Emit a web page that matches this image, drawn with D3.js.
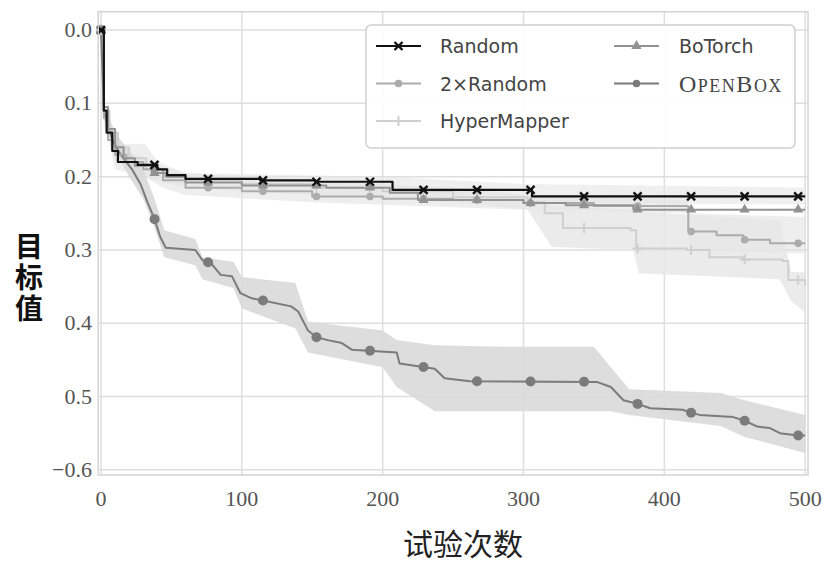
<!DOCTYPE html>
<html><head><meta charset="utf-8">
<script src="https://cdn.jsdelivr.net/npm/d3@7"></script>
<style>body{margin:0;background:#fff}</style></head><body>
<svg id="c" width="827" height="568"></svg>
<script>
// ---------- data ----------
const xTicks = [0, 100, 200, 300, 400, 500];
const yTicks = [0, 0.1, 0.2, 0.3, 0.4, 0.5, 0.6];
const yTickLabels = ["0.0", "0.1", "0.2", "0.3", "0.4", "0.5", "\u22120.6"];
const markT = [0, 38, 76, 115, 153, 191, 229, 267, 305, 343, 381, 419, 457, 495];

const randomT = [0, 2, 4, 8, 12, 26, 40, 47, 60, 113, 152, 207, 306, 500];
const randomV = [0, 0.11, 0.14, 0.165, 0.18, 0.184, 0.19, 0.198, 0.203, 0.205, 0.207, 0.218, 0.227, 0.227];

const botorchT = [0, 2, 5, 10, 16, 24, 36, 46, 60, 100, 160, 205, 225, 300, 330, 378, 500];
const botorchV = [0, 0.105, 0.135, 0.16, 0.175, 0.185, 0.195, 0.2, 0.208, 0.212, 0.215, 0.222, 0.232, 0.236, 0.239, 0.245, 0.245];

const random2T = [0, 2, 5, 10, 18, 30, 44, 60, 100, 150, 200, 250, 300, 350, 417, 437, 456, 475, 500];
const random2V = [0, 0.12, 0.15, 0.17, 0.18, 0.19, 0.205, 0.215, 0.22, 0.227, 0.23, 0.232, 0.236, 0.24, 0.275, 0.28, 0.286, 0.291, 0.291];

const hyperT = [0, 2, 6, 12, 20, 32, 45, 60, 100, 150, 200, 250, 303, 315, 328, 376, 380, 416, 432, 456, 484, 488, 500];
const hyperV = [0, 0.11, 0.14, 0.16, 0.175, 0.19, 0.2, 0.205, 0.21, 0.215, 0.22, 0.228, 0.235, 0.25, 0.27, 0.273, 0.298, 0.3, 0.31, 0.313, 0.315, 0.341, 0.348];

const openboxT = [0, 2, 8, 14, 22, 28, 33, 38, 42, 46, 67, 72, 78, 85, 93, 99, 107, 115, 135, 140, 147, 153, 161, 171, 178, 210, 212, 237, 244, 262, 352, 362, 371, 381, 390, 413, 419, 425, 449, 457, 466, 475, 482, 495, 500];
const openboxV = [0, 0.11, 0.15, 0.17, 0.19, 0.21, 0.235, 0.258, 0.282, 0.297, 0.3, 0.314, 0.318, 0.334, 0.336, 0.359, 0.366, 0.369, 0.377, 0.384, 0.41, 0.419, 0.423, 0.427, 0.436, 0.44, 0.455, 0.462, 0.475, 0.479, 0.48, 0.487, 0.505, 0.51, 0.516, 0.518, 0.522, 0.525, 0.528, 0.533, 0.541, 0.543, 0.55, 0.553, 0.553];

// confidence bands (lo = upper edge on screen, hi = lower edge)
const openboxBandT = [0, 2, 10, 20, 30, 38, 45, 67, 72, 94, 100, 138, 147, 200, 210, 237, 285, 350, 362, 375, 440, 457, 500];
const openboxBandLo = [0, 0.1, 0.14, 0.165, 0.19, 0.23, 0.273, 0.285, 0.31, 0.316, 0.337, 0.345, 0.398, 0.41, 0.423, 0.43, 0.432, 0.432, 0.46, 0.49, 0.495, 0.505, 0.525];
const openboxBandHi = [0, 0.12, 0.165, 0.2, 0.23, 0.27, 0.31, 0.321, 0.34, 0.352, 0.38, 0.407, 0.44, 0.46, 0.487, 0.52, 0.52, 0.52, 0.52, 0.525, 0.54, 0.555, 0.577];

const hyperBandT = [0, 2, 10, 30, 60, 150, 250, 303, 320, 378, 382, 420, 482, 490, 500];
const hyperBandLo = [0, 0.1, 0.15, 0.18, 0.195, 0.205, 0.215, 0.225, 0.24, 0.245, 0.248, 0.252, 0.26, 0.33, 0.33];
const hyperBandHi = [0, 0.12, 0.17, 0.2, 0.215, 0.225, 0.235, 0.245, 0.296, 0.3, 0.332, 0.335, 0.34, 0.37, 0.385];

const random2BandT = [0, 2, 10, 31, 44, 60, 150, 300, 416, 418, 500];
const random2BandLo = [0, 0.1, 0.155, 0.155, 0.19, 0.2, 0.215, 0.225, 0.232, 0.25, 0.255];
const random2BandHi = [0, 0.13, 0.18, 0.2, 0.215, 0.225, 0.235, 0.245, 0.25, 0.3, 0.305];

const randomBandT = [0, 2, 10, 40, 60, 200, 300, 500];
const randomBandLo = [0, 0.1, 0.16, 0.18, 0.195, 0.2, 0.21, 0.215];
const randomBandHi = [0, 0.12, 0.19, 0.205, 0.212, 0.222, 0.235, 0.238];

// ---------- chart ----------
const svg = d3.select("#c");
const x = d3.scaleLinear().domain([-2, 502]).range([98.2, 808]);
const y = d3.scaleLinear().domain([-0.025, 0.607]).range([11.7, 475]);
const [x0, x1] = x.range(), [y0, y1] = y.range();

// grid
const grid = svg.append("g");
grid.selectAll(".gx").data(xTicks).join("line")
  .attr("x1", d => x(d)).attr("x2", d => x(d)).attr("y1", y0).attr("y2", y1)
  .attr("stroke", "#dedede").attr("stroke-width", 1.5);
grid.selectAll(".gy").data(yTicks).join("line")
  .attr("y1", d => y(d)).attr("y2", d => y(d)).attr("x1", x0).attr("x2", x1)
  .attr("stroke", "#dedede").attr("stroke-width", 1.5);

// bands
const zip = (t, a, b) => t.map((d, i) => ({t: d, lo: a[i], hi: b[i]}));
const area = d3.area().x(d => x(d.t)).y0(d => y(d.lo)).y1(d => y(d.hi));
const bands = [
  [randomBandT, randomBandLo, randomBandHi, "#e4e4e4", 0.6],
  [random2BandT, random2BandLo, random2BandHi, "#e2e2e2", 0.6],
  [hyperBandT, hyperBandLo, hyperBandHi, "#e6e6e6", 0.8],
  [openboxBandT, openboxBandLo, openboxBandHi, "#d9d9d9", 0.9]
];
bands.forEach(([t, a, b, c, o]) => {
  svg.append("path").datum(zip(t, a, b)).attr("d", area).attr("fill", c).attr("fill-opacity", o);
});

// lines
const pts = (t, v) => t.map((d, i) => ({t: d, v: v[i]}));
const stepVal = (t, v, q) => { let r = v[0]; for (let i = 0; i < t.length; i++) if (t[i] <= q) r = v[i]; return r; };
const linVal = (t, v, q) => { for (let i = 1; i < t.length; i++) if (q <= t[i]) { const f = (q - t[i-1]) / (t[i] - t[i-1]); return v[i-1] + f * (v[i] - v[i-1]); } return v[v.length-1]; };

const series = [
  {name: "OpenBox", t: openboxT, v: openboxV, color: "#7b7b7b", curve: d3.curveLinear, val: linVal, mk: "circle", w: 2},
  {name: "HyperMapper", t: hyperT, v: hyperV, color: "#cfcfcf", curve: d3.curveStepAfter, val: stepVal, mk: "plus", w: 2},
  {name: "2×Random", t: random2T, v: random2V, color: "#acacac", curve: d3.curveStepAfter, val: stepVal, mk: "dot", w: 2},
  {name: "BoTorch", t: botorchT, v: botorchV, color: "#929292", curve: d3.curveStepAfter, val: stepVal, mk: "tri", w: 2},
  {name: "Random", t: randomT, v: randomV, color: "#111111", curve: d3.curveStepAfter, val: stepVal, mk: "x", w: 2.2}
];

function marker(g, kind, cx, cy, color) {
  if (kind === "circle") g.append("circle").attr("cx", cx).attr("cy", cy).attr("r", 5).attr("fill", color);
  else if (kind === "dot") g.append("circle").attr("cx", cx).attr("cy", cy).attr("r", 3.8).attr("fill", color);
  else if (kind === "tri") g.append("path").attr("transform", `translate(${cx},${cy})`).attr("d", d3.symbol(d3.symbolTriangle, 45)()).attr("fill", color);
  else if (kind === "plus") g.append("path").attr("d", `M${cx-5},${cy}H${cx+5}M${cx},${cy-5}V${cy+5}`).attr("stroke", color).attr("stroke-width", 2);
  else if (kind === "x") g.append("path").attr("d", `M${cx-4},${cy-4}L${cx+4},${cy+4}M${cx-4},${cy+4}L${cx+4},${cy-4}`).attr("stroke", color).attr("stroke-width", 2.4);
}

series.forEach(s => {
  const line = d3.line().x(d => x(d.t)).y(d => y(d.v)).curve(s.curve);
  svg.append("path").datum(pts(s.t, s.v)).attr("d", line).attr("fill", "none")
    .attr("stroke", s.color).attr("stroke-width", s.w).attr("stroke-linejoin", "round");
  const g = svg.append("g");
  markT.forEach(q => marker(g, s.mk, x(q), y(s.val(s.t, s.v, q)), s.color));
});

// frame
svg.append("rect").attr("x", x0).attr("y", y0).attr("width", x1 - x0).attr("height", y1 - y0)
  .attr("fill", "none").attr("stroke", "#d4d4d4").attr("stroke-width", 1.5);

// tick labels
svg.selectAll(".xt").data(xTicks).join("text")
  .attr("x", d => x(d)).attr("y", 506).attr("text-anchor", "middle")
  .attr("font-family", "Liberation Serif").attr("font-size", 22).attr("fill", "#555")
  .text(d => d);
svg.selectAll(".yt").data(yTicks).join("text")
  .attr("x", 92).attr("y", d => y(d) + 7).attr("text-anchor", "end")
  .attr("font-family", "Liberation Serif").attr("font-size", 22).attr("fill", "#555")
  .text((d, i) => yTickLabels[i]);

// axis titles
svg.append("text").attr("x", 463).attr("y", 555).attr("text-anchor", "middle")
  .attr("font-family", "Noto Sans CJK SC").attr("font-size", 30).attr("fill", "#222").text("试验次数");
svg.append("text").attr("x", 29).attr("y", 232)
  .attr("font-family", "Noto Sans CJK SC").attr("font-size", 28).attr("font-weight", "bold")
  .attr("fill", "#111").attr("letter-spacing", 3)
  .style("writing-mode", "vertical-rl").style("text-orientation", "upright")
  .text("目标值");

// legend
const lg = svg.append("g");
lg.append("rect").attr("x", 366).attr("y", 25).attr("width", 429).attr("height", 123).attr("rx", 5)
  .attr("fill", "#fff").attr("fill-opacity", 0.9).attr("stroke", "#cfcfcf").attr("stroke-width", 1.5);
const legendItems = [
  {s: "Random", col: 0, row: 0}, {s: "2×Random", col: 0, row: 1}, {s: "HyperMapper", col: 0, row: 2},
  {s: "BoTorch", col: 1, row: 0}, {s: "OpenBox", col: 1, row: 1}
];
legendItems.forEach(it => {
  const s = series.find(d => d.name === it.s);
  const lx = it.col === 0 ? 376 : 614, tx = it.col === 0 ? 440 : 679;
  const ly = 46 + it.row * 37.5;
  lg.append("line").attr("x1", lx).attr("x2", lx + 45).attr("y1", ly).attr("y2", ly)
    .attr("stroke", s.color).attr("stroke-width", s.w);
  marker(lg, s.mk === "circle" ? "dot" : s.mk, lx + 22.5, ly, s.color);
  if (it.s === "OpenBox") {
    const t = lg.append("text").attr("x", tx).attr("y", ly + 8).attr("font-family", "Liberation Serif")
      .attr("fill", "#444").attr("letter-spacing", 1.5);
    t.append("tspan").attr("font-size", 24).text("O");
    t.append("tspan").attr("font-size", 18).text("PEN");
    t.append("tspan").attr("font-size", 24).text("B");
    t.append("tspan").attr("font-size", 18).text("OX");
  } else {
    lg.append("text").attr("x", tx).attr("y", ly + 7).attr("font-family", "DejaVu Sans")
      .attr("font-size", 19).attr("fill", "#444").text(it.s);
  }
});
</script>
</body></html>
